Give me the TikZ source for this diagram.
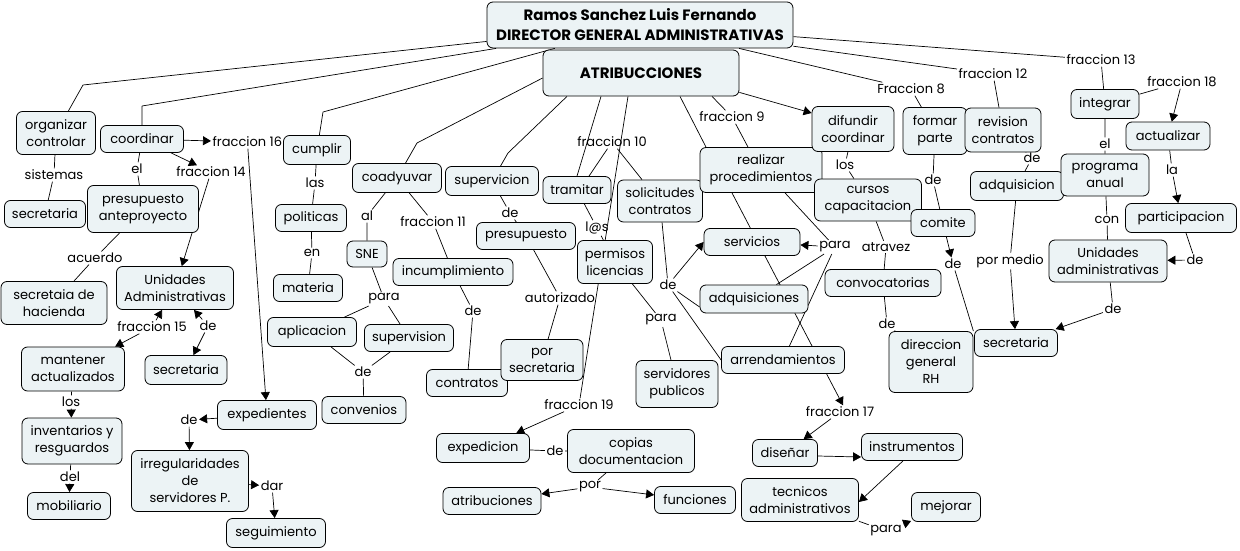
\documentclass[tikz,border=0pt]{standalone}
\usepackage{fontspec}
\setmainfont{Poppins}
\usetikzlibrary{arrows.meta}
\definecolor{cmapfill}{RGB}{236,243,245}
\newcommand{\mapfont}{\fontsize{13}{17}\selectfont}
\tikzset{
  concept/.style={draw=black,line width=0.8pt,rounded corners=6pt,fill=cmapfill,align=center,font=\mapfont,inner sep=2pt,minimum height=27pt},
  title/.style={concept,font=\bfseries\fontsize{15}{20}\selectfont},
  phrase/.style={font=\mapfont,inner sep=1.5pt},
  con/.style={draw=black,line width=0.7pt},
  arr/.style={con,-{Triangle[length=8pt,width=9pt]}}
}
\pgfdeclarelayer{bg}
\pgfsetlayers{bg,main}

\begin{document}
\begin{tikzpicture}[x=1pt,y=-1pt]
  \useasboundingbox (0,0) rectangle (1240,551);
  % top
  \node[title,minimum width=306pt,minimum height=46pt] (dir) at (640,25) {Ramos Sanchez Luis Fernando\\DIRECTOR GENERAL ADMINISTRATIVAS};
  \node[title,minimum width=196pt,minimum height=46pt] (atrib) at (641,73) {ATRIBUCCIONES};
  \coordinate (e1) at (83,85);
  \coordinate (e2) at (142,106);
  \coordinate (e3) at (323,112);
  \coordinate (e4) at (417,143);
  \coordinate (e5) at (508,153);

  % left branch
  \node[phrase,anchor=west] (f16) at (211,142) {fraccion 16};
  \node[concept,minimum width=79pt,minimum height=43pt] (org) at (56,133) {organizar\\controlar};
  \node[concept,minimum width=83pt] (coord) at (142,139) {coordinar};
  \node[concept,minimum width=81pt] (secL) at (45,214) {secretaria};
  \node[concept,minimum width=111pt,minimum height=47pt] (presant) at (143,209) {presupuesto\\anteproyecto};
  \node[concept,minimum width=106pt,minimum height=43pt] (sech) at (54,303) {secretaia de\\hacienda};
  \node[concept,minimum width=117pt,minimum height=43pt] (unidL) at (175,288) {Unidades\\Administrativas};
  \node[concept,minimum width=103pt,minimum height=44pt] (mant) at (73,369) {mantener\\actualizados};
  \node[concept,minimum width=82pt,minimum height=29pt] (secL2) at (186,370) {secretaria};
  \node[concept,minimum width=100pt,minimum height=46pt] (inv) at (72,441) {inventarios y\\resguardos};
  \node[concept,minimum width=83pt] (mob) at (69,506) {mobiliario};
  \node[concept,minimum width=99pt,minimum height=29pt] (exp) at (267,415) {expedientes};
  \node[concept,minimum width=117pt,minimum height=61pt] (irreg) at (190,481) {irregularidades\\de\\servidores P.};
  \node[concept,minimum width=99pt,minimum height=29pt] (seg) at (276,533) {seguimiento};
  \node[phrase] (sist) at (54,175) {sistemas};
  \node[phrase] (elA) at (137,169) {el};
  \node[phrase] (f14) at (211,172) {fraccion 14};
  \node[phrase] (acu) at (95,258) {acuerdo};
  \node[phrase] (f15) at (152,327) {fraccion 15};
  \node[phrase] (deU) at (208,326) {de};
  \node[phrase] (losM) at (71,402) {los};
  \node[phrase] (delI) at (70,477) {del};
  \node[phrase] (deE) at (189,420) {de};
  \node[phrase] (dar) at (272,486) {dar};

  % middle branch
  \node[concept,minimum width=67pt,minimum height=29pt] (cumplir) at (317,150) {cumplir};
  \node[concept,minimum width=71pt] (pol) at (311,218) {politicas};
  \node[concept,minimum width=69pt] (mat) at (308,288) {materia};
  \node[concept,minimum width=89pt,minimum height=29pt] (coad) at (397,178) {coadyuvar};
  \node[concept,minimum width=40pt,minimum height=26pt] (sne) at (367,254) {SNE};
  \node[concept,minimum width=120pt] (incum) at (453,272) {incumplimiento};
  \node[concept,minimum width=89pt,minimum height=29pt] (aplic) at (312,332) {aplicacion};
  \node[concept,minimum width=89pt] (supn) at (409,338) {supervision};
  \node[concept,minimum width=84pt] (conv) at (364,410) {convenios};
  \node[concept,minimum width=81pt] (contr) at (467,383) {contratos};
  \node[concept,minimum width=93pt,minimum height=29pt] (supv) at (492,181) {supervicion};
  \node[concept,minimum width=99pt] (pres) at (526,236) {presupuesto};
  \node[concept,minimum width=82pt,minimum height=41pt] (porsec) at (542,360) {por\\secretaria};
  \node[concept,minimum width=68pt] (tram) at (577,190) {tramitar};
  \node[concept,minimum width=85pt,minimum height=42pt] (sol) at (660,201) {solicitudes\\contratos};
  \node[concept,minimum width=75pt,minimum height=43pt] (perm) at (615,262) {permisos\\licencias};
  \node[concept,minimum width=82pt,minimum height=47pt] (servp) at (677,384) {servidores\\publicos};
  \node[concept,minimum width=93pt,minimum height=29pt] (exped) at (483,448) {expedicion};
  \node[concept,minimum width=127pt,minimum height=43pt] (copias) at (631,451) {copias\\documentacion};
  \node[concept,minimum width=98pt] (atrb) at (492,501) {atribuciones};
  \node[concept,minimum width=81pt] (func) at (695,500) {funciones};
  \node[phrase] (las) at (315,183) {las};
  \node[phrase] (en) at (312,253) {en};
  \node[phrase] (al) at (367,216) {al};
  \node[phrase] (f11) at (433,222) {fraccion 11};
  \node[phrase] (paraS) at (384,299) {para};
  \node[phrase] (deA) at (363,372) {de};
  \node[phrase] (deI) at (473,311) {de};
  \node[phrase] (deP) at (510,213) {de};
  \node[phrase] (aut) at (560,298) {autorizado};
  \node[phrase] (lat) at (597,228) {l@s};
  \node[phrase] (f10) at (612,142) {fraccion 10};
  \node[phrase] (deS) at (668,285) {de};
  \node[phrase] (paraM) at (661,320) {para};
  \node[phrase] (f19) at (579,405) {fraccion 19};
  \node[phrase] (deX) at (555,451) {de};
  \node[phrase] (por) at (590,487) {por};

  % right branch
  \node[concept,minimum width=122pt,minimum height=45pt] (real) at (761,170) {realizar\\procedimientos};
  \node[concept,minimum width=82pt,minimum height=45pt] (dif) at (853,129) {difundir\\coordinar};
  \node[concept,minimum width=107pt,minimum height=42pt] (cursos) at (868,200) {cursos\\capacitacion};
  \node[concept,minimum width=64pt,minimum height=47pt] (formar) at (935,131) {formar\\parte};
  \node[concept,minimum width=76pt,minimum height=44pt] (rev) at (1003,130) {revision\\contratos};
  \node[concept,minimum width=64pt] (comite) at (943,223) {comite};
  \node[concept,minimum width=93pt,minimum height=29pt] (adq) at (1017,186) {adquisicion};
  \node[concept,minimum width=68pt,minimum height=29pt] (integ) at (1105,104) {integrar};
  \node[concept,minimum width=84pt,minimum height=28pt] (act) at (1168,136) {actualizar};
  \node[concept,minimum width=88pt,minimum height=42pt] (prog) at (1105,175) {programa\\anual};
  \node[concept,minimum width=111pt,minimum height=29pt] (part) at (1181,218) {participacion};
  \node[concept,minimum width=118pt,minimum height=42pt] (urad) at (1108,261) {Unidades\\administrativas};
  \node[concept,minimum width=116pt] (convoc) at (883,283) {convocatorias};
  \node[concept,minimum width=83pt] (secR) at (1016,343) {secretaria};
  \node[concept,minimum width=84pt,minimum height=61pt] (dgrh) at (931,362) {direccion\\general\\RH};
  \node[concept,minimum width=96pt] (serv) at (752,242) {servicios};
  \node[concept,minimum width=108pt,minimum height=28pt] (adqs) at (754,299) {adquisiciones};
  \node[concept,minimum width=123pt] (arren) at (783,360) {arrendamientos};
  \node[concept,minimum width=65pt] (dis) at (785,453) {diseñar};
  \node[concept,minimum width=101pt] (instr) at (912,447) {instrumentos};
  \node[concept,minimum width=117pt,minimum height=43pt] (tec) at (800,500) {tecnicos\\administrativos};
  \node[concept,minimum width=69pt,minimum height=29pt] (mej) at (946,507) {mejorar};
  \node[phrase] (f9) at (732,117) {fraccion 9};
  \node[phrase] (f8) at (911,89) {Fraccion 8};
  \node[phrase] (f12) at (993,74) {fraccion 12};
  \node[phrase] (f13) at (1101,60) {fraccion 13};
  \node[phrase] (f18) at (1182,82) {fraccion 18};
  \node[phrase] (losD) at (845,165) {los};
  \node[phrase] (deF) at (933,180) {de};
  \node[phrase] (deC) at (953,264) {de};
  \node[phrase] (deR) at (1032,158) {de};
  \node[phrase] (elI) at (1105,144) {el};
  \node[phrase] (conL) at (1107,220) {con};
  \node[phrase] (la) at (1172,170) {la};
  \node[phrase] (deP2) at (1195,260) {de};
  \node[phrase] (deU2) at (1113,309) {de};
  \node[phrase] (pmed) at (1010,261) {por medio};
  \node[phrase] (deV) at (887,324) {de};
  \node[phrase] (paraP) at (835,247) {para};
  \node[phrase] (atrav) at (886,247) {atravez};
  \node[phrase] (f17) at (840,412) {fraccion 17};
  \node[phrase] (paraT) at (886,531) {para};

  \begin{pgfonlayer}{bg}
  \draw[con] (dir) -- (e1) (e1) -- (org);
  \draw[con] (dir) -- (e2) (e2) -- (coord);
  \draw[con] (dir) -- (e3) (e3) -- (cumplir);
  \draw[con] ([yshift=-5pt]atrib.west) -- (e4) (e4) -- (coad);
  \draw[con] ([xshift=-74pt]atrib.south) -- (e5) (e5) -- (supv);
  \draw[con] (org) -- (sist) (sist) -- (secL);
  \draw[con] (coord) -- (elA) (elA) -- (presant);
  \draw[arr] (coord) -- (f16);
  \draw[arr] (f16) -- (exp);
  \draw[arr] (coord) -- (f14);
  \draw[arr] (f14) -- (unidL);
  \draw[con] (presant) -- (acu) (acu) -- (sech);
  \draw[arr] (f15) -- (unidL);
  \draw[arr] (f15) -- (mant);
  \draw[arr] (deU) -- (unidL);
  \draw[arr] (deU) -- (secL2);
  \draw[con] (mant) -- (losM);
  \draw[arr] (losM) -- (inv);
  \draw[con] (inv) -- (delI);
  \draw[arr] (delI) -- (mob);
  \draw[arr] (exp) -- (deE);
  \draw[arr] (deE) -- (irreg);
  \draw[arr] (irreg) -- (dar);
  \draw[arr] (dar) -- (seg);
  \draw[con] (cumplir) -- (las) (las) -- (pol) (pol) -- (en) (en) -- (mat);
  \draw[con] (coad) -- (al) (al) -- (sne) (coad) -- (f11) (f11) -- (incum);
  \draw[con] (sne) -- (paraS) (paraS) -- (aplic) (paraS) -- (supn);
  \draw[con] (aplic) -- (deA) (supn) -- (deA) (deA) -- (conv);
  \draw[con] (incum) -- (deI) (deI) -- (contr);
  \draw[con] (supv) -- (deP) (deP) -- (pres);
  \draw[con] (pres) -- (aut) (aut) -- (porsec);
  \draw[con] ([xshift=-40pt]atrib.south) -- (tram.north);
  \draw[con] (f10) -- ([xshift=12pt]tram.north) (f10) -- ([xshift=-18pt]sol.north);
  \draw[con] (tram) -- (lat) (lat) -- (perm);
  \draw[con] ([xshift=-13pt]atrib.south) -- (f19);
  \draw[arr] (f19) -- (exped);
  \draw[con] (exped) -- (deX) (deX) -- (copias);
  \draw[con] (copias) -- (por);
  \draw[arr] (por) -- (atrb);
  \draw[arr] (por) -- (func);
  \draw[con] (perm) -- (paraM) (paraM) -- (servp);
  \draw[con] (sol) -- (deS);
  \draw[arr] (deS) -- (serv.west);
  \draw[con] (deS) -- ([yshift=-8pt]adqs.west) (deS) -- (arren.west);
  \draw[con] ([xshift=39pt]atrib.south) -- ([xshift=-55pt]real.north);
  \draw[con] ([xshift=71pt]atrib.south) -- (f9) (f9) -- ([xshift=-13pt]real.north);
  \draw[arr] ([yshift=4pt]atrib.south east) -- ([yshift=16pt]dif.west);
  \draw[arr] ([xshift=-29pt]real.south) -- ([xshift=3pt]f17.north);
  \draw[con] ([xshift=24pt]real.south) -- (paraP);
  \draw[arr] (paraP) -- (serv);
  \draw[con] (paraP) -- (adqs) (paraP) -- (arren);
  \draw[arr] (f17) -- (dis);
  \draw[arr] ([yshift=-3pt]dis.east) -- ([yshift=-10pt]instr.west);
  \draw[arr] ([xshift=-9pt]instr.south) -- ([yshift=-2pt]tec.east);
  \draw[con] (tec) -- (paraT);
  \draw[arr] (paraT) -- (mej);
  \draw[con] (dif) -- (losD) (losD) -- (cursos);
  \draw[con] (cursos) -- (atrav) (atrav) -- (convoc);
  \draw[con] (convoc) -- (deV) (deV) -- (dgrh);
  \draw[con] (dir) -- (f8) (f8) -- (formar);
  \draw[con] (formar) -- (deF) (deF) -- (comite);
  \draw[arr] (comite) -- (deC);
  \draw[con] (deC) -- (dgrh.north east);
  \draw[con] (dir) -- (f12) (f12) -- (rev);
  \draw[con] (rev) -- (deR) (deR) -- (adq);
  \draw[con] (adq) -- (pmed);
  \draw[arr] (pmed) -- (secR);
  \draw[con] (dir) -- (f13) (f13) -- (integ);
  \draw[con] (integ) -- (f18);
  \draw[arr] (f18) -- (act);
  \draw[con] (act) -- (la);
  \draw[arr] (la) -- (part);
  \draw[con] (part) -- (deP2);
  \draw[arr] (deP2) -- (urad);
  \draw[con] (integ) -- (elI) (elI) -- (prog) (prog) -- (conL) (conL) -- (urad);
  \draw[con] (urad) -- (deU2);
  \draw[arr] (deU2) -- (secR);
  \end{pgfonlayer}
\end{tikzpicture}
\end{document}
